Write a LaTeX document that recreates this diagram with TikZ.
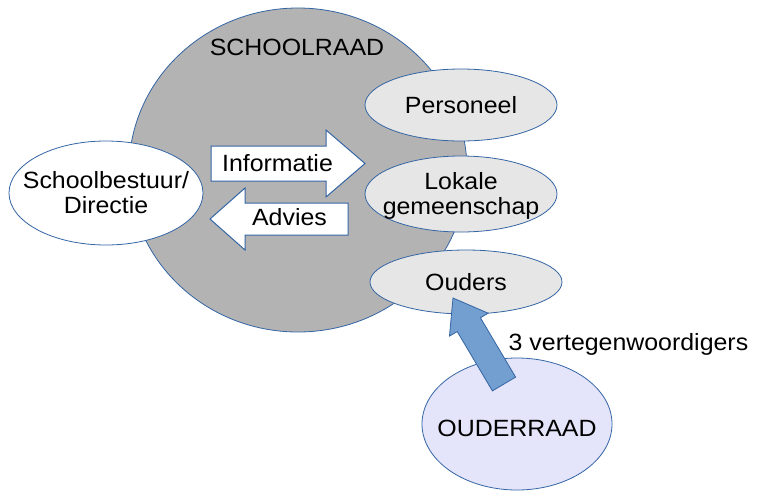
\documentclass[tikz,border=0pt]{standalone}
\usepackage{fontspec}
\setmainfont[FakeStretch=1.06]{Liberation Sans}
\usetikzlibrary{shapes.geometric,calc}
\definecolor{blueline}{RGB}{52,101,164}
\definecolor{bluefill}{RGB}{114,159,207}
\definecolor{raadgray}{RGB}{179,179,179}
\definecolor{lightgray}{RGB}{230,230,230}
\definecolor{lavender}{RGB}{228,228,250}
\tikzset{
  txt/.style={font=\fontsize{23.5}{25}\selectfont, text=black, align=center, inner sep=0pt},
  oval/.style={ellipse, draw=blueline, line width=0.8pt, inner sep=0pt},
  blockarrow/.style={draw=blueline, line width=1pt, fill=white, line join=miter},
}
\begin{document}
\begin{tikzpicture}[x=1pt,y=-1pt]
\useasboundingbox (0,0) rectangle (759,493);
% Schoolraad
\node[oval, fill=raadgray, minimum width=338pt, minimum height=324pt] (raad) at (298,170) {};
\node[txt] (raadtxt) at (297,47.5) {SCHOOLRAAD};
% members
\node[oval, fill=lightgray, minimum width=192pt, minimum height=72pt] (personeel) at (461,105) {};
\node[txt] (personeeltxt) at (personeel) {Personeel};
\node[oval, fill=lightgray, minimum width=192pt, minimum height=76pt] (lokale) at (461,194) {};
\node[txt] (lokaletxt) at (461,196) {Lokale\\gemeenschap};
\node[oval, fill=lightgray, minimum width=192pt, minimum height=64pt] (ouders) at (466,282) {};
\node[txt] (ouderstxt) at (ouders) {Ouders};
% Schoolbestuur
\node[oval, fill=white, minimum width=194pt, minimum height=104pt] (bestuur) at (106,193) {};
\node[txt] (bestuurtxt) at (106,192.5) {Schoolbestuur/\\Directie};
% Informatie arrow
\draw[blockarrow] (211,146) -- (326,146) -- (326,130) -- (365,163.5) -- (326,197) -- (326,181) -- (211,181) -- cycle;
\node[txt] (info) at (277.5,163) {Informatie};
% Advies arrow
\draw[blockarrow] (348,203) -- (245,203) -- (245,188) -- (210,219) -- (245,250) -- (245,235) -- (348,235) -- cycle;
\node[txt, anchor=base] (advies) at (289.5,225.7) {Advies};
% Ouderraad
\node[oval, fill=lavender, minimum width=190pt, minimum height=132pt] (ouderraad) at (517,424) {};
\node[txt] (ouderraadtxt) at (517,428.5) {OUDERRAAD};
% blue arrow
\coordinate (tail) at (504,384);
\coordinate (tip) at (453,298);
\coordinate (hb) at ($(tip)!31pt!(tail)$);
\draw[draw=blueline, fill=bluefill, line width=0.8pt, line join=miter]
  ($(tail)!13.5pt!90:(tip)$) -- ($(hb)!13.5pt!-90:(tail)$) -- ($(hb)!22.5pt!-90:(tail)$) -- (tip)
  -- ($(hb)!22.5pt!90:(tail)$) -- ($(hb)!13.5pt!90:(tail)$) -- ($(tail)!13.5pt!-90:(tip)$) -- cycle;
\node[txt, anchor=base] (vert) at (628.5,350) {3 vertegenwoordigers};
\end{tikzpicture}
\end{document}
